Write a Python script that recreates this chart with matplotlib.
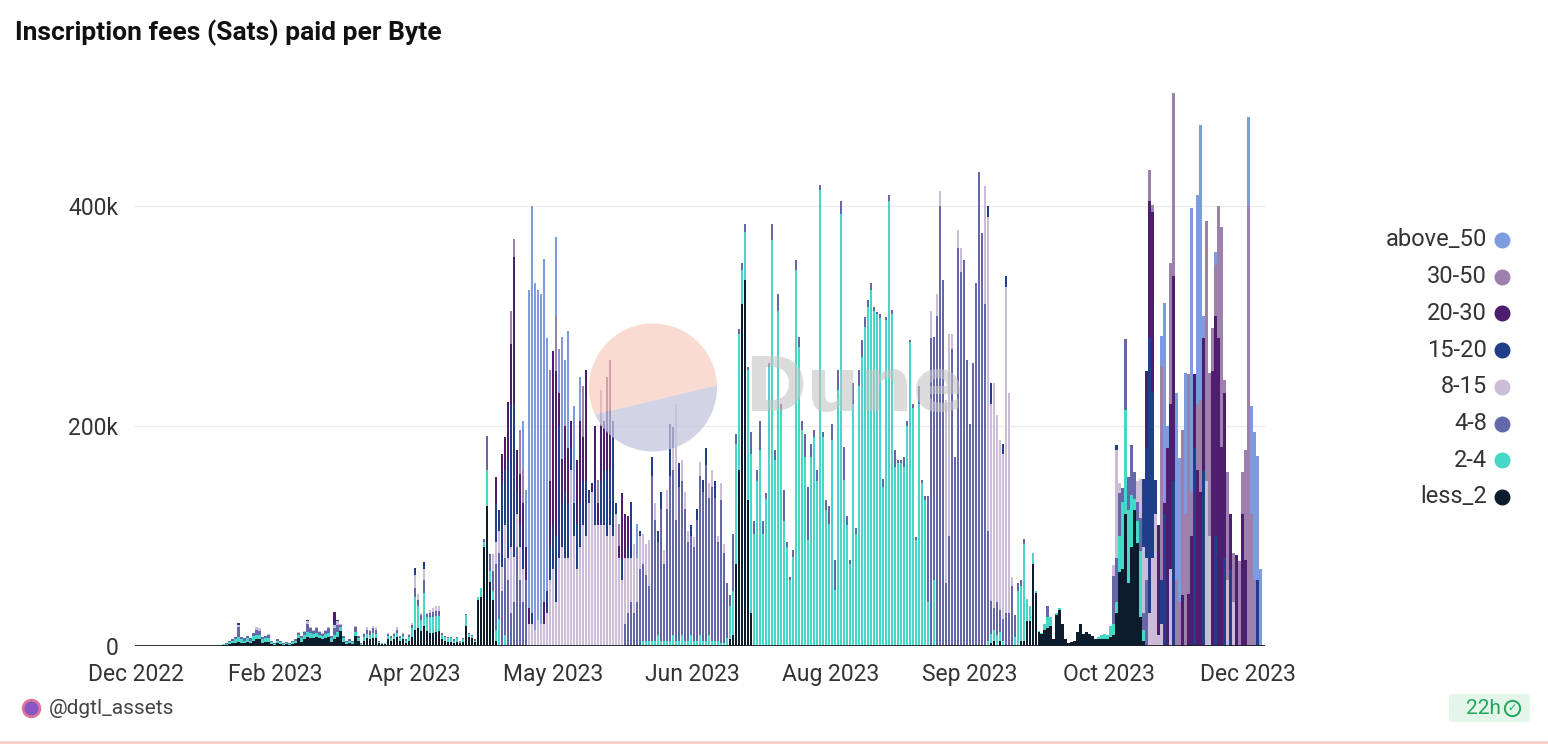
import numpy as np
import matplotlib.pyplot as plt
from matplotlib.patches import Polygon, FancyBboxPatch
from matplotlib.lines import Line2D

W, H = 1548, 746

# daily inscription fees by fee-rate bucket, thousands of sats
less_2 = ([0] * 28
          + [0, 1, 1, 2, 3, 3, 4, 3, 3, 4, 3, 5, 6, 6, 3, 4, 4, 2, 1, 3,
             2, 1, 2, 1, 2, 3, 7, 4, 6, 8, 7, 7, 8, 7, 6, 7, 8, 4, 6, 8,
             14, 4, 2, 3, 2, 9, 5, 1, 5, 7, 6, 7, 7, 3, 2, 2, 6, 5, 6, 8,
             5, 6, 3, 5, 8, 15, 16, 14, 18, 14, 12, 12, 13, 14, 6, 5, 4, 4, 3, 4,
             3, 4, 18, 8, 7, 4, 42, 45, 90, 127]
          + [58, 42, 5] + [0] * 74
          + [0, 0, 0, 6, 10, 75, 160, 311, 333, 133, 30] + [0] * 79 + [3, 5, 0, 5] + [0] * 5
          + [0, 5, 5, 23, 23, 75, 48, 13, 11, 15, 16, 18, 6, 28, 33, 20, 6, 3, 4, 5,
             13, 20, 11, 13, 11, 9, 6, 6, 6, 6, 6, 8, 10, 30, 67, 70, 120, 57, 90, 124,
             94, 26, 5] + [0] * 39)

fee_2_4 = ([0] * 28
           + [1, 1, 1, 2, 2, 3, 4, 3, 2, 3, 2, 4, 4, 4, 3, 3, 3, 2, 1, 2,
              2, 1, 1, 1, 2, 2, 3, 3, 4, 5, 5, 4, 4, 3, 3, 4, 4, 3, 4, 5,
              3, 3, 2, 2, 2, 4, 2, 1, 3, 4, 4, 5, 4, 1, 1, 1, 3, 2, 3, 4,
              2, 3, 2, 3, 8, 30, 20, 10, 30, 12, 14, 14, 14, 13, 4, 3, 3, 3, 2, 3,
              1, 2, 10, 3, 2, 1, 3, 8, 5, 33]
           + [10, 8, 10, 25, 0, 10, 0, 0, 0, 0] + [0] * 41
           + [5, 5, 5, 5, 5, 10, 5, 5, 5, 5, 10, 5, 5, 10, 5, 5, 10, 5, 5, 10, 5, 5, 10, 5, 5, 5]
           + [3, 3, 7, 30, 40, 109, 124, 31, 43, 118, 145, 102, 150, 178, 102, 134, 254, 369, 169, 305,
              215, 114, 90, 60, 81, 342, 272, 196, 172, 96, 172, 190, 150, 415, 190, 124, 111, 187, 51, 233,
              393, 151, 110, 75, 220, 102, 236, 263, 290, 308, 324, 305, 302, 298, 145, 296, 405, 302, 163, 166,
              166, 163, 200, 276, 216, 96, 220, 148, 133, 40, 0, 60]
           + [0] * 17 + [5, 8, 10, 10, 8, 5, 0, 0, 0, 8]
           + [50, 50, 88, 20, 13, 10, 2, 1, 1, 5, 10, 8, 0, 2, 2] + [0] * 12
           + [2, 4, 5, 4, 10, 10, 10, 33, 61, 95, 67, 47, 10, 20, 60, 10] + [0] * 39)

fee_4_8 = ([0] * 28
           + [0, 0, 1, 1, 1, 2, 9, 2, 2, 2, 2, 3, 5, 4, 2, 2, 3, 1, 1, 1,
              1, 1, 1, 1, 1, 1, 2, 2, 3, 7, 4, 3, 4, 3, 2, 3, 4, 2, 6, 6,
              2, 2, 1, 1, 1, 4, 2, 1, 3, 4, 4, 4, 4, 1, 0, 0, 2, 2, 2, 3,
              2, 2, 1, 2, 3, 8, 6, 4, 12, 3, 4, 5, 5, 5, 2, 1, 1, 1, 1, 1,
              1, 1, 1, 1, 1, 1, 0, 0, 2, 31]
           + [16, 18, 60, 60, 50, 70, 60, 30, 40, 90, 60, 40, 60] + [0] * 32
           + [20, 30, 40, 30, 40, 70, 70, 60, 50, 150, 110, 85, 120, 70, 120, 150, 150, 110, 140, 140,
              120, 90, 90, 85, 110, 145, 135, 160, 125, 140, 130, 90]
           + [130, 82, 50, 10, 52, 9, 4, 6, 8, 3, 20, 12, 10, 27, 12, 5, 3, 15, 9, 15,
              5, 28, 5, 3, 6, 9, 9, 9, 21, 49, 12, 6, 10, 4, 5, 9, 16, 15, 27, 18,
              12, 30, 8, 3, 19, 5, 15, 15, 9, 7, 6, 3, 2, 4, 7, 3, 5, 3, 15, 3,
              3, 9, 5, 2, 4, 3, 16, 3, 3, 96, 280, 221, 300, 400, 333, 57, 100, 270, 172, 362,
              340, 351, 260, 202, 257, 330, 431, 375, 311, 100, 30, 20, 30, 20, 20, 30, 30, 55, 20]
           + [7, 5, 4] + [0] * 7 + [10] + [0] * 21
           + [44, 40, 39, 13, 64, 30, 46, 24, 17, 30, 15, 60] + [0] * 38)

fee_8_15 = ([0] * 28
            + [0, 0, 0, 0, 0, 0, 2, 0, 0, 0, 0, 0, 2, 2, 0, 0, 1, 0, 0, 0,
               0, 0, 0, 0, 0, 0, 1, 0, 1, 3, 1, 1, 1, 1, 1, 1, 1, 0, 3, 4,
               1, 0, 0, 0, 0, 1, 0, 0, 1, 2, 1, 2, 2, 0, 0, 0, 1, 0, 1, 2,
               0, 1, 0, 1, 2, 12, 5, 2, 10, 1, 3, 4, 4, 4, 0, 0, 0, 0, 0, 0]
            + [0] * 10
            + [0, 16, 20, 20, 22, 30, 20, 60, 41, 30, 30, 30, 0, 20, 20, 15, 24, 20, 20, 30,
               60, 70, 40, 80, 90, 80, 80, 160, 100, 70, 90, 110, 100, 130, 140, 110, 110, 110, 110, 100,
               110, 100, 120, 80, 60, 60, 50, 40, 63, 40, 30, 27, 28, 41, 0, 15, 0, 0, 12, 17,
               0, 20, 105, 0, 19, 15, 10, 0, 9, 0, 12, 0, 0, 13, 15, 0, 5]
            + [15, 8] + [0] * 68
            + [25, 0, 20, 14, 0, 167, 184, 14, 0, 16, 22, 0, 0, 0, 0, 0, 0, 0, 107, 285,
               179, 204, 170, 154, 150, 296, 200, 8, 0]
            + [0] * 32 + [10, 98, 9, 0, 0, 0, 0, 0, 19, 36]
            + [60, 20, 30, 80, 120, 10, 20, 0, 0, 70, 0, 0, 0, 0, 0, 0, 0, 0, 0, 0,
               0, 150, 100, 0, 0, 0, 0, 0, 60, 0, 40, 0, 0, 0, 0, 0, 0, 0, 0, 0])

fee_15_20 = ([0] * 34 + [2] + [0] * 22 + [1] + [0] * 8 + [2, 1] + [0] * 25 + [6] + [0, 0] + [6] + [0] * 21
             + [0, 0, 35, 19, 75, 50, 90, 130, 139, 20, 20, 20, 0, 0, 10, 0, 0, 0, 0, 20,
                30, 40, 60, 120, 40, 60, 50, 20, 30, 40, 40, 40, 50, 12, 0, 40, 0, 40, 50, 60,
                50, 105, 10, 0, 20, 0, 10, 51, 0, 0, 5, 0, 0, 0, 17, 0, 10, 15, 0, 0,
                25, 19, 0, 21, 0, 0, 0, 10, 0, 10, 0, 11, 15, 0, 0, 15, 0]
             + [0] * 89 + [10, 19, 0, 0, 0, 9, 10, 0, 0, 0]
             + [0] * 33 + [5] + [0] * 8
             + [62, 100, 250, 150, 31, 0, 40, 120, 0, 0, 150, 0, 0, 0, 0, 0, 0, 180, 0, 0,
                160, 0, 0, 0, 100, 0, 0, 80, 0, 70, 0, 0, 0, 0, 0, 0, 0, 0, 60, 0])

fee_20_30 = ([0] * 66 + [10] + [0] * 51
             + [0, 0, 24, 0, 28, 30, 52, 55, 134, 38, 46, 40, 30, 15, 0, 0, 0, 0, 20, 0,
                60, 158, 150, 30, 40, 60, 50, 25, 0, 59, 75, 40, 101, 0, 8, 50, 20, 50, 45, 85,
                100, 0, 0, 11, 59, 40, 28] + [0] * 13 + [22] + [0] * 16
             + [0] * 99
             + [0] * 42
             + [0, 70, 125, 165, 0, 100, 0, 10, 180, 150, 186, 0, 0, 46, 0, 47, 100, 67, 160, 140,
                120, 0, 0, 250, 200, 280, 181, 150, 0, 50, 0, 83, 0, 120, 78, 0, 0, 0, 0, 0])

fee_30_50 = ([0] * 118
             + [0] * 7 + [30, 16, 0, 40, 30] + [0] * 8 + [101, 0, 50] + [0] * 8 + [46] + [0] * 4
             + [21, 33] + [0] * 5 + [20] + [0] * 33
             + [0] * 99
             + [0] * 42
             + [0, 0, 28, 6, 0, 0, 195, 0, 0, 128, 167, 60, 40, 150, 120, 200, 40, 0, 60, 84,
                0, 236, 148, 39, 46, 120, 200, 12, 98, 0, 45, 0, 77, 38, 100, 400, 120, 60, 0, 0])

above_50 = ([0] * 118
            + [0] * 11 + [45, 52, 289, 370, 315, 300, 300, 312, 230] + [0, 0] + [72, 40, 111, 60, 106]
            + [0] + [88] + [0] + [40] + [0] * 18 + [31] + [0] * 27
            + [0] * 99
            + [0] * 42
            + [0, 0, 0, 0, 0, 0, 27, 182, 20, 0, 0, 170, 131, 0, 128, 0, 258, 0, 190, 250,
               20, 0, 0, 0, 12, 0, 0, 0, 0, 0, 0, 0, 0, 0, 0, 81, 98, 135, 113, 70])

series = [('less_2', less_2, '#0c1c2c'),
          ('2-4', fee_2_4, '#46d7c7'),
          ('4-8', fee_4_8, '#6568a8'),
          ('8-15', fee_8_15, '#cbbcd8'),
          ('15-20', fee_15_20, '#213f89'),
          ('20-30', fee_20_30, '#4e1e6e'),
          ('30-50', fee_30_50, '#9d80ab'),
          ('above_50', above_50, '#7e9be0')]

tick_days = [0, 46.3, 92.7, 139, 185.3, 231.7, 278, 324.3, 370.7]
tick_labels = ['Dec 2022', 'Feb 2023', 'Apr 2023', 'May 2023', 'Jun 2023',
               'Aug 2023', 'Sep 2023', 'Oct 2023', 'Dec 2023']

n_days = len(less_2)
for name, vals, _ in series:
    assert len(vals) == n_days, (name, len(vals))

plt.rcParams['font.family'] = ['Roboto', 'DejaVu Sans']

fig = plt.figure(figsize=(W / 100, H / 100), dpi=100)
fig.patch.set_facecolor('white')

def fx(x):
    return x / W

def fy(y):
    return 1 - y / H

ax = fig.add_axes([fx(135), fy(646), (1265 - 135) / W, (646 - 74) / H])
days = np.arange(n_days)
bottom = np.zeros(n_days)
for name, vals, col in series:
    v = np.array(vals, dtype=float)
    ax.bar(days, v, bottom=bottom, width=0.8, color=col, linewidth=0, zorder=2)
    bottom += v

ax.set_xlim(-0.5, n_days + 0.5)
ax.set_ylim(0, 520)
ax.set_yticks([0, 200, 400])
ax.set_yticklabels(['0', '200k', '400k'])
ax.set_xticks(tick_days)
ax.set_xticklabels(tick_labels)
ax.tick_params(axis='both', length=0, labelsize=16.5, colors='#333333')
ax.tick_params(axis='x', pad=12)
ax.tick_params(axis='y', pad=12)
for sp in ax.spines.values():
    sp.set_visible(False)
ax.yaxis.grid(True, color='#ececec', lw=1)
ax.set_axisbelow(True)
ax.axhline(0, color='#1e1e1e', lw=2, zorder=3)

# Dune watermark
cx, cy, r = 653, 387.5, 64
def arc(a0, a1):
    t = np.radians(np.linspace(a0, a1, 80))
    return [(fx(cx + r * np.cos(a)), fy(cy - r * np.sin(a))) for a in t]
fig.add_artist(Polygon(arc(2, 205), closed=True, facecolor='#f8cfc3', alpha=0.75,
                       edgecolor='none', transform=fig.transFigure, zorder=5))
fig.add_artist(Polygon(arc(205, 362), closed=True, facecolor='#c4c5dc', alpha=0.75,
                       edgecolor='none', transform=fig.transFigure, zorder=5))
fig.text(fx(854), fy(390), 'Dune', fontsize=54, fontweight='bold', color='#c4c4c4',
         alpha=0.6, ha='center', va='center', family='DejaVu Sans', zorder=6)

# title
fig.text(fx(15), fy(33), 'Inscription fees (Sats) paid per Byte', fontsize=19,
         fontweight='bold', color='#111111', va='center', ha='left')

# legend
for k, (name, _, col) in enumerate(reversed(series)):
    yy = 240 + 36.7 * k
    fig.text(fx(1487), fy(yy), name, fontsize=17, color='#333333', ha='right', va='center')
    fig.add_artist(Line2D([fx(1502)], [fy(yy)], marker='o', markersize=10.5, color=col,
                          linestyle='none', transform=fig.transFigure))

# footer
fig.add_artist(Line2D([fx(31)], [fy(708)], marker='o', markersize=12, color='#8a55c4',
                      markeredgecolor='#d9739c', markeredgewidth=2, linestyle='none',
                      transform=fig.transFigure))
fig.text(fx(49), fy(708), '@dgtl_assets', fontsize=15, color='#444444', va='center', ha='left')
fig.add_artist(FancyBboxPatch((fx(1449), fy(722)), (1530 - 1449) / W, 28 / H,
                              boxstyle='round,pad=0,rounding_size=0.004',
                              facecolor='#e4f6ea', edgecolor='none', transform=fig.transFigure))
fig.text(fx(1466), fy(708), '22h', fontsize=15, color='#1fa85a', va='center', ha='left')
fig.add_artist(Line2D([fx(1512)], [fy(708)], marker='o', markersize=11, markerfacecolor='none',
                      markeredgecolor='#1fa85a', markeredgewidth=1.4, linestyle='none',
                      transform=fig.transFigure))
fig.text(fx(1512), fy(708), '\u2713', fontsize=8, color='#1fa85a', va='center', ha='center',
         family='DejaVu Sans')
fig.add_artist(Line2D([0, 1], [fy(742), fy(742)], color='#f9cccc', lw=2,
                      transform=fig.transFigure))

fig.savefig('out.png', dpi=100, facecolor='white')
